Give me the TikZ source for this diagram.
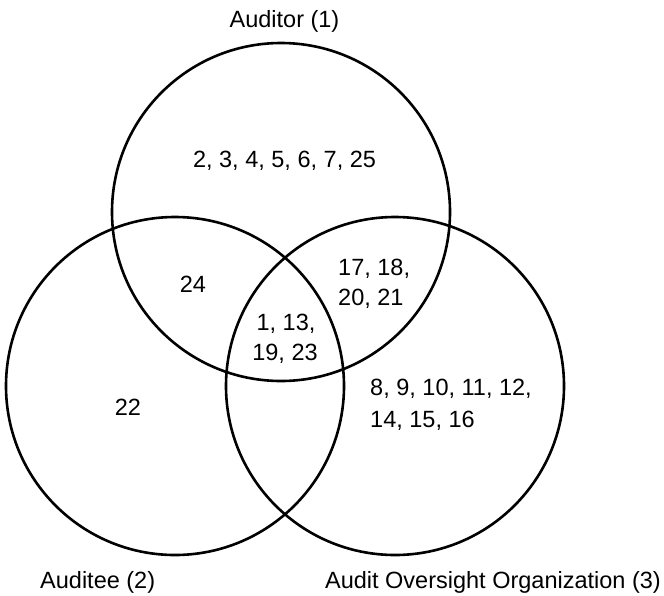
\documentclass[tikz,border=0pt]{standalone}
\usepackage{fontspec}
\setmainfont{Liberation Sans}
\begin{document}
\begin{tikzpicture}[x=1pt,y=-1pt,
  venn/.style={draw=black, circle, minimum size=338pt, inner sep=0pt, line width=2.6pt},
  lbl/.style={inner sep=0pt, font=\fontsize{23.5}{30}\selectfont, text=black}]
\useasboundingbox (0,0) rectangle (664,595);
\node[venn] (auditor) at (281,212) {};
\node[venn] (auditee) at (175,386) {};
\node[venn] (oversight) at (395,386) {};
% set labels
\node[lbl, anchor=base] (tAuditor) at (284.5,27) {Auditor (1)};
\node[lbl, anchor=base west] (tAuditee) at (40,588) {Auditee (2)};
\node[lbl, anchor=base east] (tOversight) at (661,588) {Audit Oversight Organization (3)};
% region contents
\node[lbl, anchor=base] (r1) at (284.5,167) {2, 3, 4, 5, 6, 7, 25};
\node[lbl, anchor=base] (r12) at (193,292) {24};
\node[lbl, anchor=base] (r2) at (128,415) {22};
\node[lbl, anchor=base] (r123a) at (286,330) {1, 13,};
\node[lbl, anchor=base] (r123b) at (285,360) {19, 23};
\node[lbl, anchor=base west] (r13a) at (338,275) {17, 18,};
\node[lbl, anchor=base west] (r13b) at (338,305) {20, 21};
\node[lbl, anchor=base west] (r3a) at (370,395) {8, 9, 10, 11, 12,};
\node[lbl, anchor=base west] (r3b) at (370,427) {14, 15, 16};
\end{tikzpicture}
\end{document}
